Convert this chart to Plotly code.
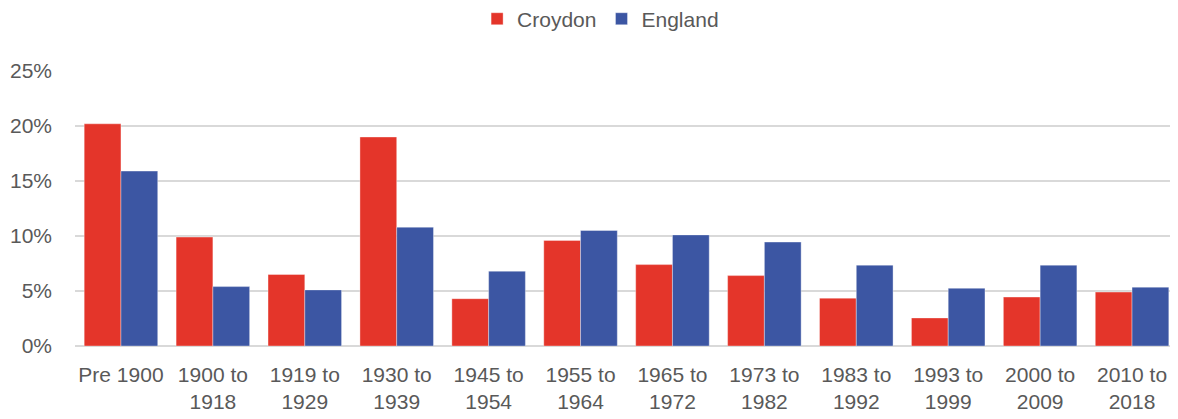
import plotly.graph_objects as go

categories = ["Pre 1900", "1900 to<br>1918", "1919 to<br>1929", "1930 to<br>1939", "1945 to<br>1954",
              "1955 to<br>1964", "1965 to<br>1972", "1973 to<br>1982", "1983 to<br>1992",
              "1993 to<br>1999", "2000 to<br>2009", "2010 to<br>2018"]
croydon = [20.2, 9.9, 6.5, 19.0, 4.3, 9.6, 7.4, 6.4, 4.35, 2.55, 4.45, 4.9]
england = [15.9, 5.4, 5.1, 10.8, 6.8, 10.5, 10.1, 9.45, 7.35, 5.25, 7.35, 5.35]
y_ticks = [0, 5, 10, 15, 20, 25]
y_tick_labels = ["0%", "5%", "10%", "15%", "20%", "25%"]

RED = "#E4352A"
BLUE = "#3C56A3"
TXT = "#595959"
FONT = "Liberation Sans, Arial, sans-serif"

fig = go.Figure()
fig.add_trace(go.Bar(name="Croydon", x=categories, y=croydon,
                     marker=dict(color=RED, line=dict(color="rgba(255,255,255,0.6)", width=0.6))))
fig.add_trace(go.Bar(name="England", x=categories, y=england,
                     marker=dict(color=BLUE, line=dict(color="rgba(255,255,255,0.6)", width=0.6))))

# page body has an 8px default margin, so the figure is sized to fit the 1178x419 window
fig.update_layout(
    width=1170, height=411,
    barmode="group", bargap=0.2, bargroupgap=0,
    plot_bgcolor="white", paper_bgcolor="white",
    margin=dict(l=67, r=0, t=63, b=73, autoexpand=False),
    font=dict(family=FONT, size=21, color=TXT),
    legend=dict(orientation="h", xref="container", yref="container",
                x=0.5065, xanchor="center", y=0.973, yanchor="middle",
                font=dict(size=21, color=TXT), traceorder="normal", itemwidth=30),
    showlegend=True,
)
fig.update_xaxes(showgrid=False, showline=False, ticks="", tickfont=dict(size=21, color=TXT),
                 ticklabelstandoff=14, automargin=False)
fig.update_yaxes(range=[0, 25], tickvals=y_ticks, ticktext=y_tick_labels, showgrid=True,
                 gridcolor="#D9D9D9", gridwidth=1.5, zeroline=True, zerolinecolor="#D9D9D9",
                 zerolinewidth=1.5, showline=False, ticks="", tickfont=dict(size=21, color=TXT),
                 ticklabelstandoff=22, automargin=False)

fig.write_html("out.html")
